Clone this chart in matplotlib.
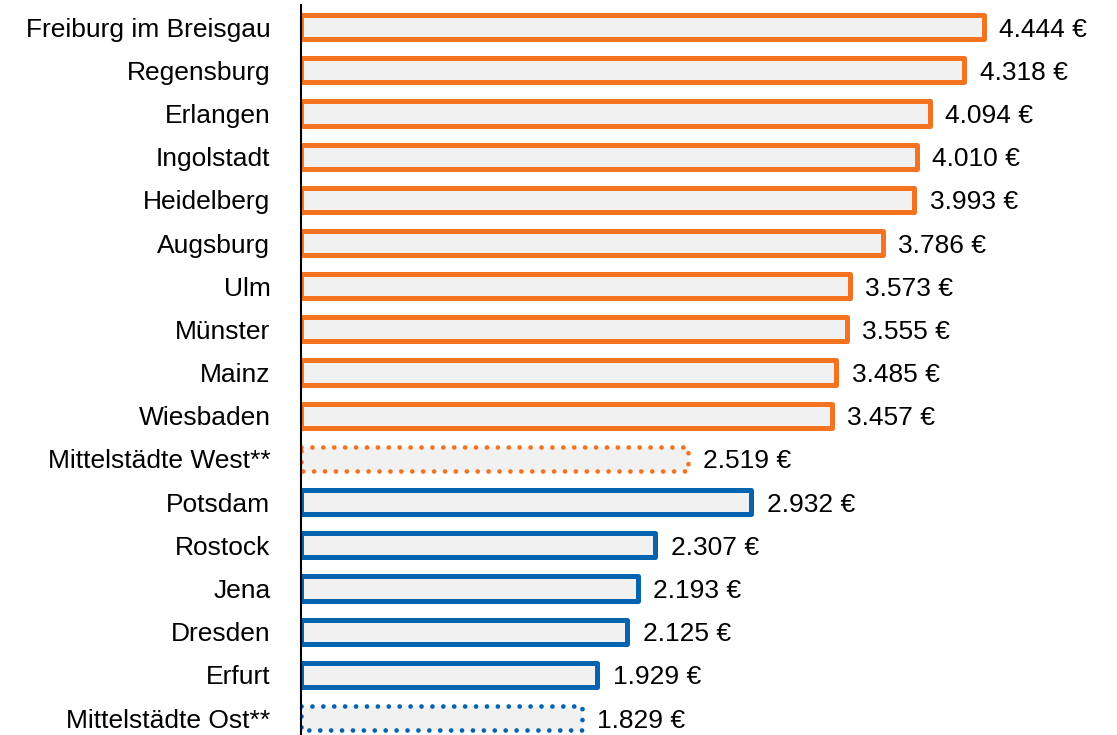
import matplotlib.pyplot as plt

plt.rcParams['font.family'] = ['Liberation Sans', 'DejaVu Sans']

# Städte und Werte (Euro)
cities = ["Freiburg im Breisgau", "Regensburg", "Erlangen", "Ingolstadt", "Heidelberg",
          "Augsburg", "Ulm", "Münster", "Mainz", "Wiesbaden", "Mittelstädte West**",
          "Potsdam", "Rostock", "Jena", "Dresden", "Erfurt", "Mittelstädte Ost**"]
values = [4444, 4318, 4094, 4010, 3993, 3786, 3573, 3555, 3485, 3457, 2519,
          2932, 2307, 2193, 2125, 1929, 1829]
region = ["West"] * 11 + ["Ost"] * 6
average = [False] * 10 + [True] + [False] * 5 + [True]

colors = {"West": "#f47321", "Ost": "#0563b0"}
fill = "#f1f1f1"

fig = plt.figure(figsize=(11.17, 7.35), dpi=100)
ax = fig.add_axes([301 / 1117, 0, 1 - 301 / 1117, 730 / 735])

y = list(range(len(cities)))
bars = ax.barh(y, values, height=0.56, color=fill)
for bar, reg, avg in zip(bars, region, average):
    bar.set_edgecolor(colors[reg])
    bar.set_joinstyle("round")
    if avg:
        # Durchschnittswerte gepunktet
        bar.set_linewidth(3.4)
        bar.set_linestyle((0, (0.01, 2.3)))
        bar.set_capstyle("round")
    else:
        bar.set_linewidth(3.6)

for yi, v in zip(y, values):
    label = f"{v:,}".replace(",", ".") + " €"
    ax.annotate(label, (v, yi), xytext=(11, 0), textcoords="offset points",
                va="center_baseline", ha="left", fontsize=19)

ax.set_xlim(0, 5312)
ax.set_ylim(16.39, -0.51)
ax.set_yticks(y)
ax.set_yticklabels(cities, fontsize=19, va="center_baseline")
ax.tick_params(axis="y", length=0, pad=22)
ax.set_xticks([])
for side in ["top", "right", "bottom"]:
    ax.spines[side].set_visible(False)
ax.spines["left"].set_linewidth(1.5)
ax.spines["left"].set_zorder(3)

fig.savefig("out.png", dpi=100)
